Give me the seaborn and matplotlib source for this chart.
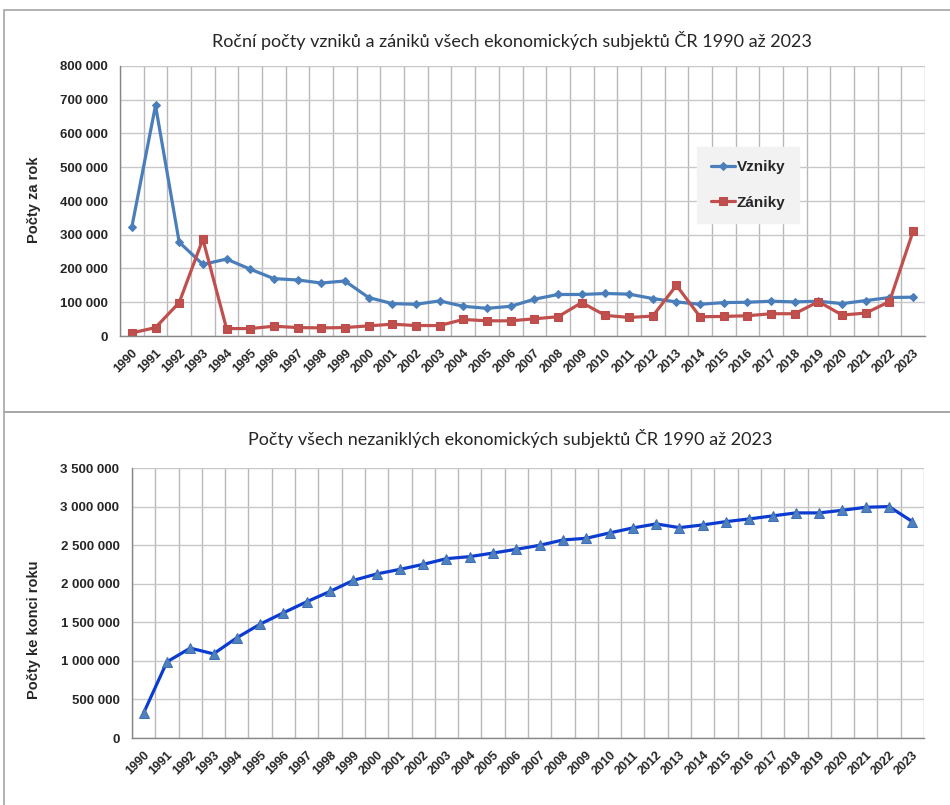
import matplotlib
matplotlib.use("Agg")
import matplotlib.pyplot as plt
import matplotlib.ticker as mticker
from matplotlib.patches import Rectangle
import seaborn as sns
import pandas as pd

years = list(range(1990, 2024))
vzniky = [323000, 683000, 278000, 212000, 228000, 198000, 170000, 166000, 157000, 163000,
          114000, 96000, 94000, 104000, 88000, 82000, 88000, 109000, 123000, 123000,
          126000, 124000, 111000, 101000, 94000, 99000, 100000, 103000, 101000, 103000,
          96000, 105000, 114000, 115000]
zaniky = [9000, 25000, 99000, 287000, 22000, 22000, 29000, 25000, 24000, 25000,
          30000, 35000, 31000, 31000, 49000, 45000, 45000, 51000, 57000, 99000,
          61000, 55000, 59000, 150000, 57000, 58000, 60000, 66000, 66000, 102000,
          62000, 68000, 102000, 311000]
nezaniklych = [325000, 987000, 1165000, 1091000, 1299000, 1476000, 1623000, 1766000, 1900000, 2043000,
               2126000, 2186000, 2251000, 2325000, 2351000, 2398000, 2446000, 2498000, 2567000, 2589000,
               2658000, 2723000, 2775000, 2727000, 2762000, 2805000, 2840000, 2879000, 2918000, 2918000,
               2952000, 2991000, 3000000, 2805000]

title_top = "Roční počty vzniků a zániků všech ekonomických subjektů ČR 1990 až 2023"
title_bottom = "Počty všech nezaniklých ekonomických subjektů ČR 1990 až 2023"
ylabel_top = "Počty za rok"
ylabel_bottom = "Počty ke konci roku"
series_names = ["Vzniky", "Zániky"]

sns.set_style("white")
plt.rcParams["font.family"] = ["Liberation Sans", "DejaVu Sans"]

W, H = 950, 805
fig = plt.figure(figsize=(W / 100, H / 100), dpi=100)

# panel frames
for (x0, y0, x1, y1) in [(4, 10, 960, 412), (4, 412, 960, 815)]:
    fig.add_artist(Rectangle((x0 / W, 1 - y1 / H), (x1 - x0) / W, (y1 - y0) / H,
                             transform=fig.transFigure, fill=False,
                             edgecolor="#a6a6a6", lw=1.2))

def fx(px):
    return px / W

def fy(py):
    return 1 - py / H

ax1 = fig.add_axes([fx(120), fy(336), fx(925) - fx(120), fy(66) - fy(336)])
ax2 = fig.add_axes([fx(132), fy(738), fx(924) - fx(132), fy(468) - fy(738)])

df_top = pd.DataFrame({"rok": years * 2,
                       "pocet": vzniky + zaniky,
                       "serie": [series_names[0]] * len(years) + [series_names[1]] * len(years)})
df_bot = pd.DataFrame({"rok": years, "pocet": nezaniklych})

sns.lineplot(data=df_top[df_top.serie == series_names[0]], x="rok", y="pocet", ax=ax1,
             color="#4a7ebb", lw=2.3, marker="D", markersize=4.5,
             markeredgecolor="#4a7ebb", label=series_names[0])
sns.lineplot(data=df_top[df_top.serie == series_names[1]], x="rok", y="pocet", ax=ax1,
             color="#c0504d", lw=2.3, marker="s", markersize=6,
             markeredgecolor="#be4b48", label=series_names[1])
sns.lineplot(data=df_bot, x="rok", y="pocet", ax=ax2, color="#0b3bd0", lw=2.3,
             marker="^", markersize=7, markerfacecolor="#4f81bd",
             markeredgecolor="#3f6fb8")

fmt = mticker.FuncFormatter(lambda v, p: f"{int(round(v)):,}".replace(",", " "))

for ax, ymax, ystep in [(ax1, 800000, 100000), (ax2, 3500000, 500000)]:
    ax.set_xlim(years[0] - 0.5, years[-1] + 0.5)
    ax.set_ylim(0, ymax)
    ax.yaxis.set_major_locator(mticker.MultipleLocator(ystep))
    ax.yaxis.set_major_formatter(fmt)
    ax.set_xticks(years)
    ax.set_xticks([y - 0.5 for y in years] + [years[-1] + 0.5], minor=True)
    ax.set_xticklabels([str(y) for y in years], rotation=45, ha="right",
                       rotation_mode="anchor", fontsize=9, fontweight="bold")
    ax.tick_params(axis="x", which="major", length=0, pad=8)
    ax.tick_params(axis="x", which="minor", length=5, color="#868686", width=1)
    ax.tick_params(axis="y", which="major", length=5, color="#868686", width=1,
                   labelsize=9.5, pad=4)
    for lab in ax.get_yticklabels():
        lab.set_fontweight("bold")
    ax.grid(True, axis="y", which="major", color="#c8c8c8", lw=1)
    ax.grid(True, axis="x", which="minor", color="#b8b8b8", lw=1)
    ax.grid(False, axis="x", which="major")
    for s in ["top", "right"]:
        ax.spines[s].set_visible(False)
    for s in ["left", "bottom"]:
        ax.spines[s].set_color("#868686")
        ax.spines[s].set_linewidth(1)
    ax.set_xlabel("")
    ax.set_axisbelow(True)

ax1.set_ylabel(ylabel_top, fontsize=10.5, fontweight="bold")
ax1.yaxis.set_label_coords((41 - 120) / (925 - 120), (336 - 200) / (336 - 66))
ax2.set_ylabel(ylabel_bottom, fontsize=10.5, fontweight="bold")
ax2.yaxis.set_label_coords((41 - 132) / (924 - 132), (738 - 630) / (738 - 468))

leg = ax1.legend(loc="center", bbox_to_anchor=(fx(748), fy(185)),
                 bbox_transform=fig.transFigure, frameon=True, fancybox=False,
                 facecolor="#f2f2f2", edgecolor="#f2f2f2", framealpha=1,
                 prop={"weight": "bold", "size": 11}, handlelength=1.6,
                 handletextpad=0.1, labelspacing=1.4, borderpad=0.9, borderaxespad=0)

fig.text(fx(512), fy(40), title_top, ha="center", va="center", fontsize=13,
         family=["Lato", "DejaVu Sans"])
fig.text(fx(510), fy(438), title_bottom, ha="center", va="center", fontsize=13,
         family=["Lato", "DejaVu Sans"])

fig.savefig("out.png", dpi=100)
